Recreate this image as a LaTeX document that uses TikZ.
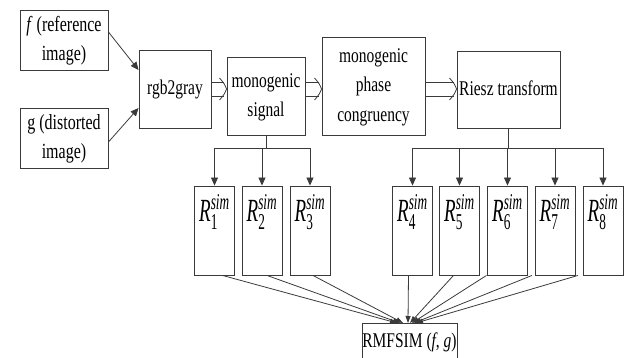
\documentclass[tikz,border=0pt]{standalone}
\usepackage{amsmath}
\usepackage{graphicx}
\usepackage{fontspec}
\setmainfont{Liberation Serif}
\usetikzlibrary{arrows.meta}
\definecolor{edge}{HTML}{3A3A3A}
\renewcommand{\arraystretch}{1.2}
\newcommand{\vtxt}[2][1.35]{\scalebox{1}[#1]{\begin{tabular}{@{}c@{}}#2\end{tabular}}}
\newcommand{\rsim}[1]{\scalebox{1}[1.7]{$\textit{R}^{\text{\itshape sim}}_{\text{#1}}$}}

\begin{document}
\begin{tikzpicture}[x=1pt,y=-1pt,
  box/.style={draw=edge,line width=0.9pt,inner sep=0pt,align=center,
    font=\fontsize{15.5}{18.5}\selectfont},
  rbox/.style={draw=edge,line width=0.9pt,minimum width=40pt,minimum height=89pt,inner sep=0pt},
  arr/.style={edge,line width=0.8pt,-{Triangle[width=7pt,length=8pt]}},
  thin arr/.style={edge,line width=0.8pt,-{Triangle[width=5pt,length=7pt]}},
  hollow/.style={edge,line width=0.8pt}]
  \useasboundingbox (0,0) rectangle (625,358);
  % input images
  \node[box,minimum width=88pt,minimum height=60pt] (fimg) at (64,40)
    {\fontsize{16}{18.5}\selectfont\vtxt{\textit{f} (reference\\image)}};
  \node[box,minimum width=88pt,minimum height=60pt] (gimg) at (64,138)
    {\fontsize{16}{18.5}\selectfont\vtxt{g (distorted\\image)}};
  % main chain
  \node[box,minimum width=72pt,minimum height=78pt] (gray) at (175,89) {\vtxt{rgb2gray}};
  \node[box,minimum width=78pt,minimum height=78pt] (mono) at (266,96)
    {\raisebox{5pt}{\vtxt{monogenic\\signal}}};
  \node[box,minimum width=103pt,minimum height=98pt] (phase) at (373.5,86)
    {\vtxt{monogenic\\phase\\congruency}};
  \node[box,minimum width=103pt,minimum height=77pt] (riesz) at (508.5,89.5)
    {\raisebox{-3pt}{\vtxt{Riesz transform}}};
  \draw[arr] (fimg.east |- 0,32) -- (gray.west |- 0,70);
  \draw[arr] (gimg.east |- 0,142) -- (gray.west |- 0,108);
  % hollow arrows
  \foreach \a/\b in {gray/mono,mono/phase,phase/riesz} {
    \coordinate (\a-out) at (\a.east |- gray.east);
    \coordinate (\b-in) at (\b.west |- gray.east);
    \draw[hollow] ([shift={(0,-7)}]\a-out) -- ([shift={(-3,-7)}]\b-in);
    \draw[hollow] ([shift={(0,7)}]\a-out) -- ([shift={(-3,7)}]\b-in);
    \draw[hollow] ([shift={(-7,-11)}]\b-in) .. controls ([shift={(-2,-5)}]\b-in) .. (\b-in)
      .. controls ([shift={(-2,5)}]\b-in) .. ([shift={(-7,11)}]\b-in);
  }
  % similarity maps
  \foreach \i/\x in {1/214.5,2/262,3/310,4/412.5,5/459.5,6/507.5,7/555,8/603} {
    \node[rbox] (r\i) at (\x,230.5) {};
    \node[anchor=north,inner sep=0pt,font=\fontsize{19}{22}\selectfont]
      (rl\i) at ([yshift=-9pt]r\i.north) {\rsim{\i}};
  }
  \coordinate (busA) at (mono.south |- 0,148);
  \coordinate (busB) at (riesz.south |- 0,148);
  \draw[edge,line width=0.8pt] (mono.south) -- (busA);
  \draw[edge,line width=0.8pt] (riesz.south) -- (busB);
  \foreach \i in {1,2,3} \draw[arr] (busA) -| (r\i.north);
  \foreach \i in {4,...,8} \draw[arr] (busB) -| (r\i.north);
  % pooling
  \node[box,minimum width=95pt,minimum height=37pt] (rmf) at (409.5,341.5)
    {\raisebox{2pt}{\vtxt{RMFSIM (\textit{f}, \textit{g})}}};
  \foreach \i/\dx/\ex in {1/8/397,2/5/400,3/3/403,4/-4/408,5/-6/410,6/-21/412,7/-23/414,8/-25/416} {
    \coordinate (e\i) at (\ex,323);
    \draw[thin arr] ([xshift=\dx pt]r\i.south) -- (e\i);
  }
\end{tikzpicture}
\end{document}
